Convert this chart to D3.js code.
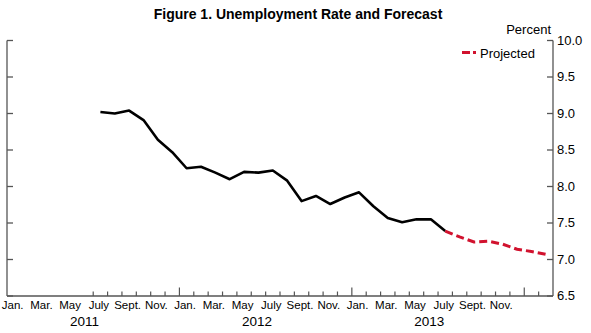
<!DOCTYPE html>
<html>
<head>
<meta charset="utf-8">
<script src="https://cdn.jsdelivr.net/npm/d3@7/dist/d3.min.js"></script>
<style>
  html, body { margin: 0; padding: 0; background: #fff; }
  svg { display: block; font-family: "Liberation Sans", Arial, Helvetica, sans-serif; }
</style>
</head>
<body>
<svg id="chart" width="591" height="333"></svg>
<script>
// ---- Data ----
const titleText = "Figure 1. Unemployment Rate and Forecast";
const actualMonths = ["2011-07","2011-08","2011-09","2011-10","2011-11","2011-12",
  "2012-01","2012-02","2012-03","2012-04","2012-05","2012-06","2012-07","2012-08","2012-09","2012-10","2012-11","2012-12",
  "2013-01","2013-02","2013-03","2013-04","2013-05","2013-06","2013-07"];
const actualValues = [9.02, 9.00, 9.04, 8.91, 8.64, 8.47,
  8.25, 8.27, 8.19, 8.10, 8.20, 8.19, 8.22, 8.08, 7.80, 7.87, 7.76, 7.85,
  7.92, 7.73, 7.57, 7.51, 7.55, 7.55, 7.39];
const projMonths = ["2013-07","2013-08","2013-09","2013-10","2013-11","2013-12","2014-01","2014-02"];
const projValues = [7.39, 7.31, 7.24, 7.25, 7.21, 7.14, 7.11, 7.07];
const yTicks = [6.5, 7.0, 7.5, 8.0, 8.5, 9.0, 9.5, 10.0];
const monthLabels = ["Jan.", "Mar.", "May", "July", "Sept.", "Nov."];
const monthLabelIdx = [0, 2, 4, 6, 8, 10];
const years = [2011, 2012, 2013];
const tickStart = "2011-07", tickEnd = "2014-02";
const domainStart = "2011-01", domainEnd = "2014-03";

// ---- Helpers ----
const mi = s => { const [yy, m] = s.split("-").map(Number); return (yy - 2011) * 12 + (m - 1); };

const svg = d3.select("#chart");
const pLeft = 7, pRight = 553, pTop = 40.5, pBottom = 296;

const x = d3.scaleLinear().domain([mi(domainStart), mi(domainEnd)]).range([pLeft, pRight]);
const y = d3.scaleLinear().domain([6.5, 10]).range([pBottom, pTop]);

// Title
svg.append("text").attr("x", 298).attr("y", 18.5).attr("text-anchor", "middle")
  .attr("font-size", 14).attr("font-weight", "bold").attr("fill", "#000").text(titleText);

const axisColor = "#555";
// Axes lines
svg.append("line").attr("x1", pLeft).attr("x2", pLeft).attr("y1", pTop).attr("y2", pBottom)
  .attr("stroke", axisColor).attr("stroke-width", 1.3);
svg.append("line").attr("x1", pRight).attr("x2", pRight).attr("y1", pTop).attr("y2", pBottom)
  .attr("stroke", axisColor).attr("stroke-width", 1.3);
svg.append("line").attr("x1", pLeft).attr("x2", pRight).attr("y1", pBottom).attr("y2", pBottom)
  .attr("stroke", axisColor).attr("stroke-width", 1.3);

// Y ticks (inward on both sides), labels on right
yTicks.forEach(v => {
  const yy = y(v);
  svg.append("line").attr("x1", pLeft).attr("x2", pLeft + 6).attr("y1", yy).attr("y2", yy)
    .attr("stroke", axisColor).attr("stroke-width", 1.3);
  svg.append("line").attr("x1", pRight - 6).attr("x2", pRight).attr("y1", yy).attr("y2", yy)
    .attr("stroke", axisColor).attr("stroke-width", 1.3);
  svg.append("text").attr("x", 557).attr("y", yy + 4).attr("font-size", 13).attr("fill", "#000")
    .text(v.toFixed(1));
});

// X ticks
d3.range(mi(tickStart), mi(tickEnd) + 1).forEach(m => {
  const xx = x(m);
  const len = (m % 12 === 0) ? 8.5 : 4.5;
  svg.append("line").attr("x1", xx).attr("x2", xx).attr("y1", pBottom).attr("y2", pBottom - len)
    .attr("stroke", axisColor).attr("stroke-width", 1.2);
});

// Month labels & year labels
years.forEach(yr => {
  const base = (yr - 2011) * 12;
  monthLabels.forEach((lab, i) => {
    svg.append("text").attr("x", x(base + monthLabelIdx[i] + 0.5) - 1.5).attr("y", 308.5)
      .attr("text-anchor", "middle").attr("font-size", 11.5).attr("fill", "#000").text(lab);
  });
  svg.append("text").attr("x", (x(base + 0.5) + x(base + 10.5)) / 2 - 1.5).attr("y", 325.5)
    .attr("text-anchor", "middle").attr("font-size", 13.5).attr("fill", "#000").text(yr);
});

// Lines
const line = d3.line().x(d => x(d[0] + 0.5)).y(d => y(d[1]));
const actual = actualMonths.map((m, i) => [mi(m), actualValues[i]]);
const proj = projMonths.map((m, i) => [mi(m), projValues[i]]);

svg.append("path").datum(actual).attr("d", line).attr("fill", "none")
  .attr("stroke", "#000").attr("stroke-width", 2.6).attr("stroke-linejoin", "round");
svg.append("path").datum(proj).attr("d", line).attr("fill", "none")
  .attr("stroke", "#d1122e").attr("stroke-width", 3).attr("stroke-dasharray", "8,4");

// Legend
svg.append("text").attr("x", 551).attr("y", 33.5).attr("text-anchor", "end")
  .attr("font-size", 13).attr("fill", "#000").text("Percent");
svg.append("line").attr("x1", 462).attr("x2", 477).attr("y1", 52.5).attr("y2", 52.5)
  .attr("stroke", "#d1122e").attr("stroke-width", 3).attr("stroke-dasharray", "8,3,3,10");
svg.append("text").attr("x", 480).attr("y", 58).attr("font-size", 13).attr("fill", "#000").text("Projected");
</script>
</body>
</html>
